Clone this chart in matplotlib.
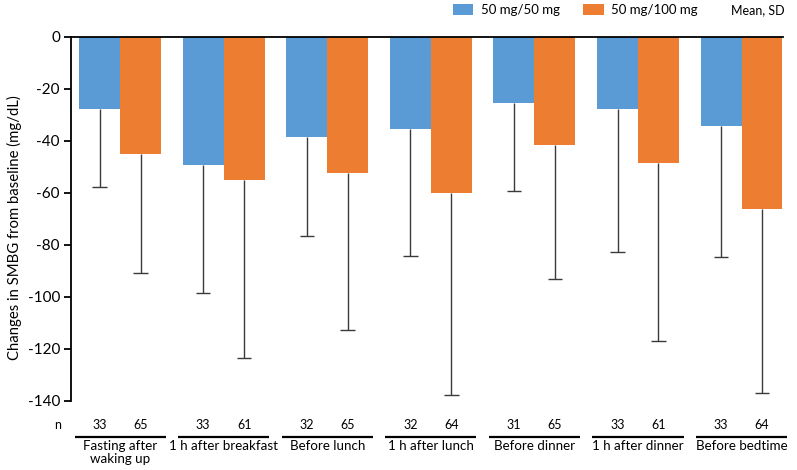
import matplotlib
matplotlib.use("Agg")
import matplotlib.pyplot as plt
import matplotlib.transforms as mtransforms
from matplotlib.patches import Patch
import numpy as np

plt.rcParams['font.family'] = ['Lato', 'DejaVu Sans']
plt.rcParams['axes.unicode_minus'] = False

# data
categories = ["Fasting after\nwaking up", "1 h after breakfast", "Before lunch",
              "1 h after lunch", "Before dinner", "1 h after dinner", "Before bedtime"]
mean_50 = [-27.8, -49.3, -38.6, -35.5, -25.5, -27.8, -34.5]
sd_50 = [30.0, 49.2, 38.0, 48.8, 33.7, 55.0, 50.0]
mean_100 = [-45.1, -55.2, -52.4, -60.1, -41.7, -48.7, -66.4]
sd_100 = [45.9, 68.4, 60.3, 77.7, 51.5, 68.2, 70.6]
n_50 = [33, 33, 32, 32, 31, 33, 33]
n_100 = [65, 61, 65, 64, 65, 61, 64]
series_labels = ["50 mg/50 mg", "50 mg/100 mg"]

blue = "#5B9BD5"
orange = "#ED7D31"
err_col = "#3a3a3a"

W, H = 797, 470
fig = plt.figure(figsize=(W / 100, H / 100), dpi=100)
ax = fig.add_axes([71 / W, 1 - 401 / H, (783 - 71) / W, (401 - 36.5) / H])

x = np.arange(len(categories))
w = 0.395
bx = x - w / 2
ox = x + w / 2
ax.bar(bx, mean_50, width=w, color=blue, zorder=2)
ax.bar(ox, mean_100, width=w, color=orange, zorder=2)

# SD whiskers pointing down only
low_50 = np.array(mean_50) - np.array(sd_50)
low_100 = np.array(mean_100) - np.array(sd_100)
cap = 0.07
for xs, m, lo in [(bx, mean_50, low_50), (ox, mean_100, low_100)]:
    ax.vlines(xs, lo, m, color=err_col, lw=1.0, zorder=1)
    ax.hlines(lo, xs - cap, xs + cap, color=err_col, lw=1.0, zorder=1)

ax.set_xlim(-0.474, 6.40)
ax.set_ylim(-140, 0)
ax.set_yticks(np.arange(-140, 1, 20))
ax.set_yticklabels([str(v) for v in range(-140, 1, 20)], fontsize=11)
ax.set_xticks([])
ax.tick_params(axis='y', direction='out', length=5, width=1.3, pad=3)
for s in ['right', 'bottom']:
    ax.spines[s].set_visible(False)
ax.spines['left'].set_linewidth(1.3)
ax.spines['top'].set_linewidth(1.3)
ax.spines['top'].set_zorder(3)

fig.text(14 / W, 1 - 228 / H, "Changes in SMBG from baseline (mg/dL)", rotation=90,
         ha='center', va='center', fontsize=10.7)

# n row, group lines and category labels under the axis
trans = mtransforms.blended_transform_factory(ax.transData, fig.transFigure)
fig.text(58 / W, 1 - 425 / H, "n", ha='center', va='center', fontsize=9)
for i in range(len(categories)):
    ax.text(bx[i], 1 - 425 / H, str(n_50[i]), transform=trans, ha='center', va='center', fontsize=9)
    ax.text(ox[i], 1 - 425 / H, str(n_100[i]), transform=trans, ha='center', va='center', fontsize=9)
    ax.plot([x[i] - 0.44, x[i] + 0.44], [1 - 436.5 / H] * 2, transform=trans,
            color='black', lw=1.6, clip_on=False, solid_capstyle='butt')
    ax.text(x[i], 1 - 440 / H, categories[i], transform=trans, ha='center', va='top',
            fontsize=9.6, linespacing=1.1)

handles = [Patch(facecolor=blue), Patch(facecolor=orange)]
fig.legend(handles, series_labels, ncol=2, frameon=False, loc='center left',
           bbox_to_anchor=(453 / W, 1 - 10 / H), borderpad=0, borderaxespad=0,
           fontsize=9.5, handlelength=1.55, handleheight=0.9, handletextpad=0.55,
           columnspacing=1.8)
fig.text(785 / W, 1 - 10 / H, "Mean, SD", ha='right', va='center', fontsize=9)

fig.savefig("out.png", dpi=100)
